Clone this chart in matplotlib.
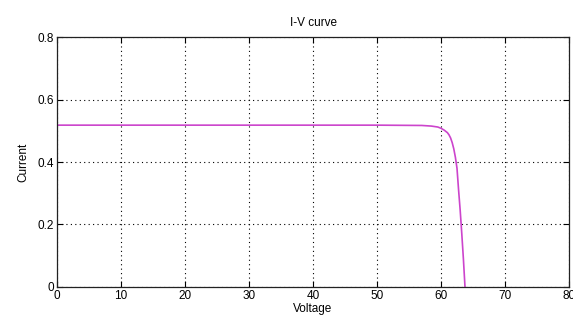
import matplotlib
matplotlib.use("Agg")
import matplotlib.pyplot as plt

# I-V curve
voltage = [0, 50, 57, 58.5, 59.5, 60, 60.5, 61, 61.25, 61.5, 61.75, 62, 62.25, 62.5, 62.75, 63, 63.25, 63.5, 63.75]
current = [0.518, 0.518, 0.517, 0.515, 0.512, 0.508, 0.502, 0.494, 0.487, 0.477, 0.462, 0.442, 0.415, 0.38, 0.31, 0.245, 0.17, 0.09, 0.0]

x_ticks = [0, 10, 20, 30, 40, 50, 60, 70, 80]
y_ticks = [0, 0.2, 0.4, 0.6, 0.8]

plt.rcParams["font.family"] = ["Liberation Sans", "DejaVu Sans"]

fig = plt.figure(figsize=(5.73, 3.25), dpi=100)
ax = fig.add_axes([0.0995, 0.117, 0.8935, 0.769])

ax.plot(voltage, current, color="#cc44cc", linewidth=1.2)

ax.set_xlim(0, 80)
ax.set_ylim(0, 0.8)
ax.set_xticks(x_ticks)
ax.set_yticks(y_ticks)
ax.set_xticklabels([str(t) for t in x_ticks])
ax.set_yticklabels(["0", "0.2", "0.4", "0.6", "0.8"])
ax.tick_params(direction="in", top=True, right=True, labelsize=8.5, length=4, width=0.8, pad=2)
ax.grid(True, color="black", linestyle=(0, (1, 3)), linewidth=0.8)
for spine in ax.spines.values():
    spine.set_linewidth(0.9)
    spine.set_color("#222222")

ax.set_title("I-V curve", fontsize=8.5, pad=8)
ax.set_xlabel("Voltage", fontsize=8.5, labelpad=1)
ax.set_ylabel("Current", fontsize=8.5, labelpad=6)

fig.savefig("out.png", dpi=100)
